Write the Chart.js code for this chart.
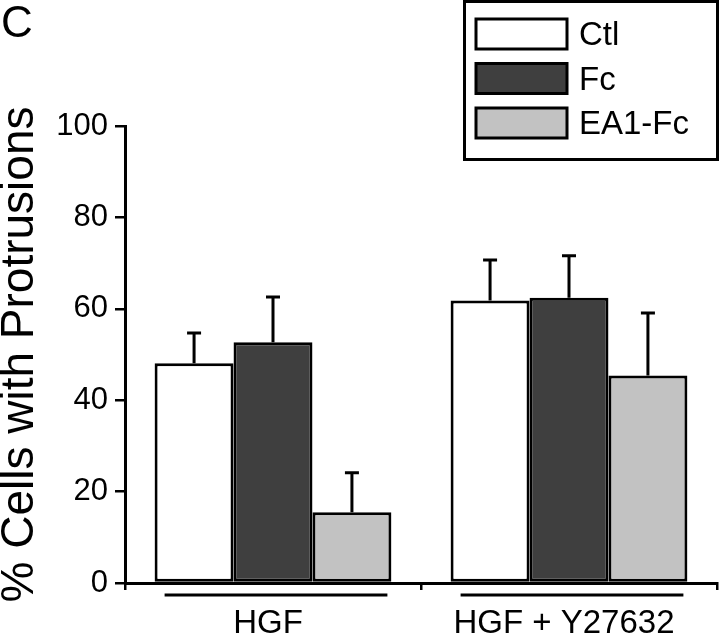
<!DOCTYPE html>
<html>
<head>
<meta charset="utf-8">
<script src="https://cdn.jsdelivr.net/npm/chart.js@4/dist/chart.umd.min.js"></script>
<style>
    html, body { margin: 0; padding: 0; background: #fff; }
    #wrap { width: 720px; height: 637px; position: relative; }
</style>
</head>
<body>
<div id="wrap"><canvas id="protrusionChart"></canvas></div>
<script>
// data
const categories = ['HGF', 'HGF + Y27632'];
const seriesNames = ['Ctl', 'Fc', 'EA1-Fc'];
const ctlValues = [48.1, 61.8];
const fcValues = [52.7, 62.4];
const ea1FcValues = [15.5, 45.4];
const ctlErrors = [6.6, 8.9];
const fcErrors = [9.9, 9.2];
const ea1FcErrors = [8.6, 13.7];
const yTicks = [0, 20, 40, 60, 80, 100];

const FONT = '"Liberation Sans", Arial, Helvetica, sans-serif';
const fills = ['#ffffff', '#3f3f3f', '#c2c2c2'];

// upper error bars with caps
const errorBarPlugin = {
    id: 'errorBars',
    afterDatasetsDraw(chart) {
        const ctx = chart.ctx;
        const yScale = chart.scales.y;
        ctx.save();
        ctx.strokeStyle = '#000';
        ctx.lineWidth = 3;
        chart.data.datasets.forEach((ds, di) => {
            const meta = chart.getDatasetMeta(di);
            meta.data.forEach((bar, i) => {
                const top = yScale.getPixelForValue(ds.data[i] + ds.errors[i]);
                ctx.beginPath();
                ctx.moveTo(bar.x, bar.y);
                ctx.lineTo(bar.x, top);
                ctx.moveTo(bar.x - 7, top);
                ctx.lineTo(bar.x + 7, top);
                ctx.stroke();
            });
        });
        ctx.restore();
    }
};

// group underline bars, boxed legend and panel letter
const decorPlugin = {
    id: 'decor',
    afterDraw(chart) {
        const ctx = chart.ctx;
        const xScale = chart.scales.x;
        ctx.save();

        // underline under each group
        const first = chart.getDatasetMeta(0);
        const last = chart.getDatasetMeta(chart.data.datasets.length - 1);
        ctx.strokeStyle = '#000';
        ctx.lineWidth = 3;
        categories.forEach((c, i) => {
            const left = first.data[i].x - first.data[i].width / 2 + 10;
            const right = last.data[i].x + last.data[i].width / 2 - 4;
            ctx.beginPath();
            ctx.moveTo(left, xScale.top + 12);
            ctx.lineTo(right, xScale.top + 12);
            ctx.stroke();
        });

        // panel letter
        ctx.fillStyle = '#000';
        ctx.font = '44px ' + FONT;
        ctx.textAlign = 'left';
        ctx.textBaseline = 'alphabetic';
        ctx.fillText('C', 1, 37);

        // legend box
        ctx.lineWidth = 3;
        ctx.strokeRect(464.5, 1.5, 253, 158);
        ctx.font = '33px ' + FONT;
        ctx.textBaseline = 'middle';
        chart.data.datasets.forEach((ds, i) => {
            const y = 19 + i * 44.5;
            ctx.fillStyle = ds.backgroundColor;
            ctx.fillRect(476, y, 91, 30);
            ctx.strokeRect(476, y, 91, 30);
            ctx.fillStyle = '#000';
            ctx.fillText(ds.label, 579, y + 17);
        });
        ctx.restore();
    }
};

const ctx = document.getElementById('protrusionChart').getContext('2d');
const protrusionChart = new Chart(ctx, {
    type: 'bar',
    data: {
        labels: categories,
        datasets: [
            { label: seriesNames[0], data: ctlValues, errors: ctlErrors, backgroundColor: fills[0] },
            { label: seriesNames[1], data: fcValues, errors: fcErrors, backgroundColor: fills[1] },
            { label: seriesNames[2], data: ea1FcValues, errors: ea1FcErrors, backgroundColor: fills[2] }
        ].map(ds => ({
            ...ds,
            borderColor: '#000',
            borderWidth: 3,
            borderSkipped: false,
            categoryPercentage: 0.8,
            barPercentage: 1.0
        }))
    },
    options: {
        responsive: true,
        maintainAspectRatio: false,
        animation: false,
        devicePixelRatio: 1,
        layout: {
            padding: { top: 126, right: 3, bottom: 0, left: 0 }
        },
        plugins: {
            legend: { display: false },
            tooltip: { enabled: false },
            title: { display: false }
        },
        scales: {
            x: {
                afterFit(scale) { scale.height = 54; },
                grid: {
                    display: true,
                    drawOnChartArea: false,
                    offset: true,
                    tickLength: 7,
                    lineWidth: 2.5,
                    color: '#000'
                },
                border: { display: true, color: '#000', width: 3 },
                ticks: {
                    color: '#000',
                    padding: 14,
                    labelOffset: -5,
                    font: { family: FONT, size: 33 }
                }
            },
            y: {
                min: 0,
                max: 100,
                afterFit(scale) { scale.width = 125; },
                afterBuildTicks(scale) {
                    scale.ticks = yTicks.map(v => ({ value: v }));
                },
                grid: {
                    display: true,
                    drawOnChartArea: false,
                    tickLength: 10,
                    lineWidth: 2.5,
                    color: '#000'
                },
                border: { display: true, color: '#000', width: 3 },
                ticks: {
                    color: '#000',
                    padding: 7,
                    font: { family: FONT, size: 31 }
                },
                title: {
                    display: true,
                    text: '% Cells with Protrusions',
                    color: '#000',
                    padding: { top: -3, bottom: 0 },
                    font: { family: FONT, size: 46, lineHeight: 1 }
                }
            }
        }
    },
    plugins: [errorBarPlugin, decorPlugin]
});
</script>
</body>
</html>
